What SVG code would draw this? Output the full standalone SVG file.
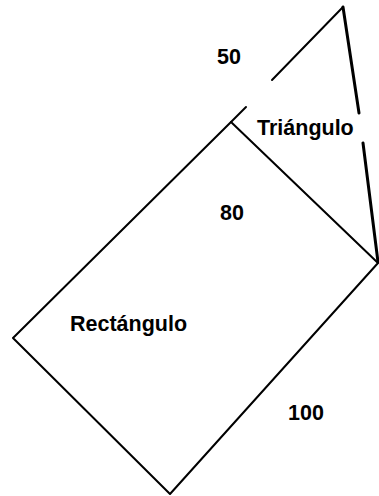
<svg xmlns="http://www.w3.org/2000/svg" width="379" height="496" viewBox="0 0 379 496">
<style>
.edge{fill:none;stroke:#000;stroke-width:2;stroke-linecap:round;stroke-linejoin:round}
.thick{stroke-width:3}
text{font-family:"Liberation Sans",Arial,sans-serif;font-weight:bold;font-size:21.5px;fill:#000}
</style>
<rect width="379" height="496" fill="#fff"/>
<g id="rectangulo">
<polygon class="edge" points="231,122 378,263 170,494 13,338"/>
<text x="70" y="331">Rectángulo</text>
</g>
<g id="triangulo">
<line class="edge" x1="231" y1="122" x2="246" y2="107"/>
<line class="edge" x1="272" y1="80" x2="343" y2="7"/>
<line class="edge thick" x1="343" y1="7" x2="359" y2="113"/>
<line class="edge thick" x1="363" y1="143" x2="378" y2="262"/>
<text x="257" y="135">Triángulo</text>
</g>
<g id="medidas">
<text x="217" y="64">50</text>
<text x="220" y="220">80</text>
<text x="288" y="420">100</text>
</g>
</svg>
